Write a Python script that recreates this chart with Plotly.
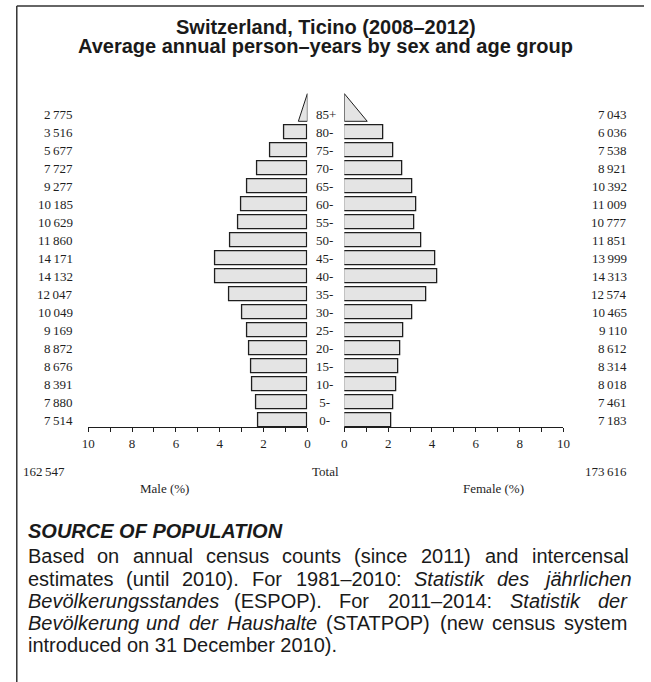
import plotly.graph_objects as go

# data
ages = ["0-", "5-", "10-", "15-", "20-", "25-", "30-", "35-", "40-",
        "45-", "50-", "55-", "60-", "65-", "70-", "75-", "80-", "85+"]
male = [7514, 7880, 8391, 8676, 8872, 9169, 10049, 12047, 14132,
        14171, 11860, 10629, 10185, 9277, 7727, 5677, 3516, 2775]
female = [7183, 7461, 8018, 8314, 8612, 9110, 10465, 12574, 14313,
          13999, 11851, 10777, 11009, 10392, 8921, 7538, 6036, 7043]
male_total = 162547
female_total = 173616
ticks = list(range(0, 11))

W, H = 651, 682
SERIF = "Liberation Serif"
SANS = "Liberation Sans"
INK = "#1e1e1e"
FILL = "#e4e4e4"


def px(x):
    return x / W


def py(y):
    return 1 - y / H


def fmt(n):
    return f"{n:,}".replace(",", "\u2009")


grand = male_total + female_total
male_pct = [v / grand * 100 for v in male]
female_pct = [v / grand * 100 for v in female]
rows = list(range(len(ages)))
bar_w = 0.78
n_bar = len(ages) - 1  # last group (85+) drawn as a triangle

fig = go.Figure()

fig.add_trace(go.Bar(y=rows[:n_bar], x=male_pct[:n_bar], orientation="h",
                     width=bar_w, xaxis="x", yaxis="y",
                     marker=dict(color=FILL, line=dict(color=INK, width=1.3)),
                     showlegend=False, hoverinfo="skip"))
fig.add_trace(go.Bar(y=rows[:n_bar], x=female_pct[:n_bar], orientation="h",
                     width=bar_w, xaxis="x2", yaxis="y",
                     marker=dict(color=FILL, line=dict(color=INK, width=1.3)),
                     showlegend=False, hoverinfo="skip"))

# open-ended group as a triangle
top = rows[-1]
base_y = top - bar_w / 2
apex_y = top + 1.15
for vals, xa in ((male_pct, "x"), (female_pct, "x2")):
    b = vals[-1] / 2
    fig.add_trace(go.Scatter(x=[0, b, 0, 0], y=[base_y, base_y, apex_y, base_y],
                             xaxis=xa, yaxis="y", mode="lines", fill="toself",
                             fillcolor=FILL, line=dict(color=INK, width=1),
                             showlegend=False, hoverinfo="skip"))

axis_common = dict(
    showgrid=False, zeroline=False, showline=True,
    linecolor=INK, linewidth=1, ticks="outside", ticklen=4, tickwidth=1,
    tickcolor=INK, tickvals=ticks,
    ticktext=[str(t) if t % 2 == 0 else "" for t in ticks],
    tickfont=dict(family=SERIF, size=13, color=INK), anchor="y",
    fixedrange=True,
)

y_lo, y_hi = -0.39, 18.5
fig.update_layout(
    width=W, height=H,
    margin=dict(l=0, r=0, t=0, b=0),
    paper_bgcolor="white", plot_bgcolor="white",
    bargap=0,
    xaxis=dict(axis_common, domain=[px(83), px(307)], range=[10, 0]),
    xaxis2=dict(axis_common, domain=[px(344.7), px(568.7)], range=[0, 10]),
    yaxis=dict(domain=[py(427.3), py(427.3 - 18 * (y_hi - y_lo))],
               range=[y_lo, y_hi], visible=False, fixedrange=True),
)

ann = []
lab_font = dict(family=SERIF, size=13, color=INK)
for i, a in enumerate(ages):
    label = a if len(a) == 3 else "\u00a0" + a
    ann.append(dict(x=px(314), y=i, xref="paper", yref="y", text=label,
                    xanchor="left", yanchor="middle", showarrow=False, font=lab_font))
    ann.append(dict(x=px(69), y=i, xref="paper", yref="y", text=fmt(male[i]),
                    xanchor="right", yanchor="middle", showarrow=False, font=lab_font))
    ann.append(dict(x=px(636), y=i, xref="paper", yref="y", text=fmt(female[i]),
                    xanchor="right", yanchor="middle", showarrow=False, font=lab_font))

ann += [
    dict(x=px(14), y=py(471), text=fmt(male_total), xanchor="left"),
    dict(x=px(636), y=py(471), text=fmt(female_total), xanchor="right"),
    dict(x=px(326), y=py(471), text="Total", xanchor="center"),
    dict(x=px(161), y=py(488), text="Male (%)", xanchor="center"),
    dict(x=px(497), y=py(488), text="Female (%)", xanchor="center"),
]
for a in ann[-5:]:
    a.update(xref="paper", yref="paper", yanchor="middle", showarrow=False, font=lab_font)

# title
for txt, y in (("Switzerland, Ticino (2008–2012)", 27),
               ("Average annual person–years by sex and age group", 46)):
    ann.append(dict(x=px(326), y=py(y), xref="paper", yref="paper", text=f"<b>{txt}</b>",
                    xanchor="center", yanchor="middle", showarrow=False,
                    font=dict(family=SANS, size=20, color="#1a1a1a")))

# source note, fully justified by placing words with Arial metrics
AW = {" ": 278, "(": 333, ")": 333, ",": 278, "-": 333, ".": 278, ":": 278, "–": 556,
      "ä": 556, "ö": 556}
AW.update({d: 556 for d in "0123456789"})
AW.update(dict(zip("ABCDEFGHIJKLMNOPQRSTUVWXYZ",
                   [667, 667, 722, 722, 667, 611, 778, 722, 278, 500, 667, 556, 833,
                    722, 778, 667, 778, 722, 667, 611, 722, 667, 944, 667, 667, 611])))
AW.update(dict(zip("abcdefghijklmnopqrstuvwxyz",
                   [556, 556, 500, 556, 556, 278, 556, 556, 222, 222, 500, 222, 833,
                    556, 556, 556, 556, 333, 500, 278, 556, 500, 722, 500, 500, 500])))

FS = 20
LEFT, RIGHT = 20, 632
src_font = dict(family=SANS, size=FS, color="#1a1a1a")
lines = [
    [("Based on annual census counts (since 2011) and intercensal", False)],
    [("estimates (until 2010). For 1981–2010:", False), ("Statistik des jährlichen", True)],
    [("Bevölkerungsstandes", True), ("(ESPOP). For 2011–2014:", False), ("Statistik der", True)],
    [("Bevölkerung und der Haushalte", True), ("(STATPOP) (new census system", False)],
]
line_y = [556, 578.5, 601, 623]

ann.append(dict(x=px(LEFT), y=py(531), xref="paper", yref="paper",
                text="<b><i>SOURCE OF POPULATION</i></b>", xanchor="left", yanchor="middle",
                showarrow=False, borderpad=0, font=src_font))


def wwidth(w):
    return sum(AW.get(c, 556) for c in w) / 1000 * FS


for segs, y in zip(lines, line_y):
    words = [(w, it) for s, it in segs for w in s.split(" ")]
    widths = [wwidth(w) for w, _ in words]
    gap = (RIGHT - LEFT - sum(widths)) / (len(words) - 1)
    x = LEFT
    for (w, it), ww in zip(words, widths):
        ann.append(dict(x=px(x), y=py(y), xref="paper", yref="paper",
                        text=f"<i>{w}</i>" if it else w, xanchor="left", yanchor="middle",
                        showarrow=False, borderpad=0, font=src_font))
        x += ww + gap

# last line is not justified
ann.append(dict(x=px(LEFT), y=py(645), xref="paper", yref="paper",
                text="introduced on 31 December 2010).", xanchor="left", yanchor="middle",
                showarrow=False, borderpad=0, font=src_font))

fig.update_layout(annotations=ann)

# frame: top and left rules
fig.add_shape(type="line", xref="paper", yref="paper", x0=px(10), x1=1, y0=py(6), y1=py(6),
              line=dict(color="#333333", width=1.5))
fig.add_shape(type="line", xref="paper", yref="paper", x0=px(10), x1=px(10), y0=py(6), y1=0,
              line=dict(color="#333333", width=1.5))

fig.write_html("out.html", config={"displayModeBar": False},
               post_script="document.body.style.margin='0';"
                           "document.documentElement.style.overflow='hidden';")
